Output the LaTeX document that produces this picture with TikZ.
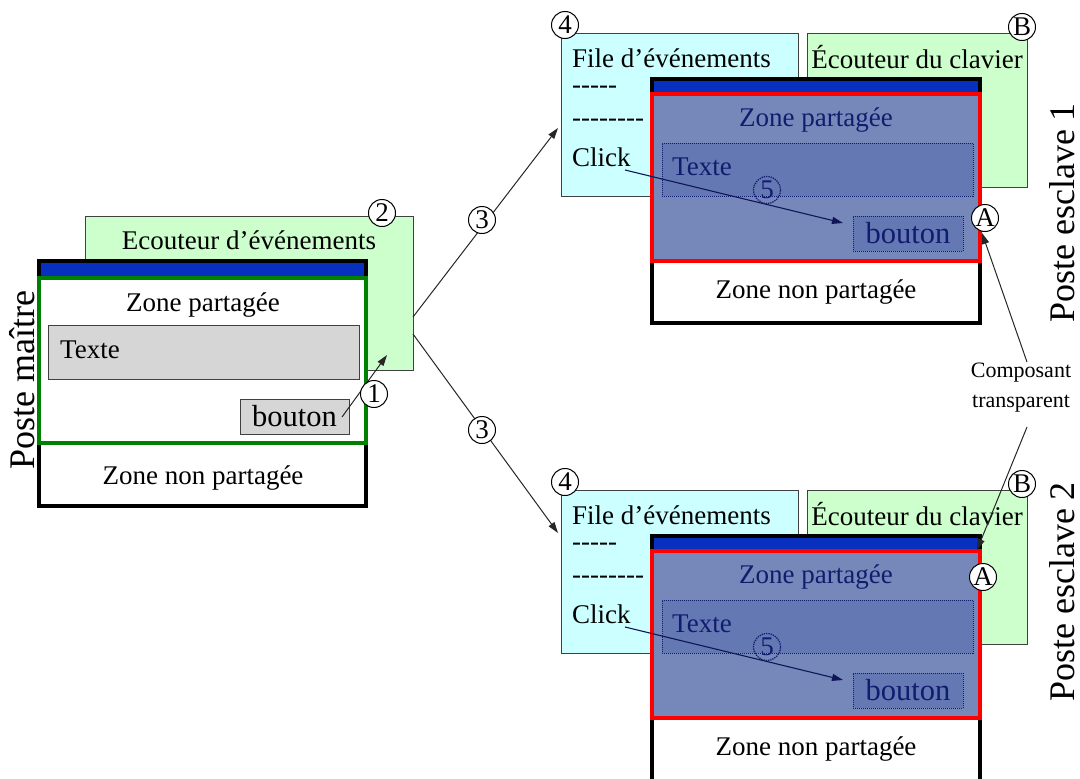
\documentclass[tikz,border=0pt]{standalone}
\usepackage{fontspec}
\setmainfont{Liberation Serif}
\usetikzlibrary{arrows.meta,fit}
\definecolor{lgreen}{RGB}{204,255,204}
\definecolor{lcyan}{RGB}{204,255,255}
\definecolor{tbar}{RGB}{8,48,190}
\definecolor{dgreen}{RGB}{0,128,0}
\definecolor{shared}{RGB}{118,136,186}
\definecolor{sharedbox}{RGB}{100,120,180}
\definecolor{navy}{RGB}{18,28,110}
\definecolor{gbox}{RGB}{214,214,214}
\newcommand\hy{\mbox{-}}
\newcommand\fs[2]{\fontsize{#1}{#2}\selectfont}
\begin{document}
\begin{tikzpicture}[x=1pt,y=-1pt,
  rbox/.style={rectangle, inner sep=0pt, outer sep=0pt},
  panel/.style={rbox, draw=black!75, line width=1pt},
  txt/.style={inner sep=0pt, font=\fs{27}{32}},
  btxt/.style={inner sep=0pt, font=\fs{30.5}{34}},
  stxt/.style={txt, text=navy},
  big/.style={inner sep=0pt, font=\fs{36}{40}, rotate=90},
  circ/.style={circle, draw=black, fill=white, line width=1pt, inner sep=0pt, minimum size=27pt, font=\fs{27}{27}},
  circd/.style={circle, draw=navy, densely dotted, line width=1.3pt, inner sep=0pt, minimum size=27pt, font=\fs{27}{27}, text=navy},
  conn/.style={draw=black!85, line width=1pt, -{Triangle[length=11pt,width=7pt]}},
  sconn/.style={draw=navy!80!black, line width=1.1pt, -{Triangle[length=11pt,width=7pt]}}]
\useasboundingbox (0,0) rectangle (1080,779);
\clip (0,0) rectangle (1080,779);

% ---------------- master ----------------
\node[panel, fill=lgreen, fit={(85,216) (413,370)}] (lis) {};
\node[txt] (mec) at (249,240) {Ecouteur d’événements};
\node[circ] (c2) at (382,213) {2};

\node[rbox, fill=white, fit={(39,261) (366,506)}] (mwin) {};
\node[rbox, fill=tbar, fit={(39,261) (366,278)}] (mbar) {};
\draw[line width=4pt] (mwin.north west) rectangle (mwin.south east);
\node[rbox, draw=dgreen, line width=4pt, fit={(39,278) (366,443)}] (mzone) {};
\node[txt] (mzp) at (203,305) {Zone partagée};
\node[panel, fill=gbox, fit={(48,325) (359,379)}] (mtbox) {};
\node[txt, anchor=west] (mtx) at (60,350) {Texte};
\node[panel, fill=gbox, fit={(240,399) (349,434)}] (mbbox) {};
\node[btxt] (mbt) at (mbbox.center) {bouton};
\node[txt] (mznp) at (203,478) {Zone non partagée};
\node[big] (pm) at (22,380) {Poste maître};

\coordinate (a1s) at (342,417);
\coordinate (a1e) at (387,355);
\draw[conn] (a1s) -- (a1e);
\node[circ] (c1) at (374,394) {1};

% ---------------- slaves ----------------
\foreach \s/\dy/\bot in {1/0/323, 2/457/340} {
\begin{scope}[yshift={-\dy pt}]
  \node[panel, fill=lcyan, fit={(561,33) (798,196)}] (file\s) {};
  \node[txt, anchor=west] (ft\s) at (572,58) {File d’événements};
  \node[txt, anchor=west] (fd\s) at (572,90) {\hy\hy\hy\hy\hy};
  \node[txt, anchor=west] (fe\s) at (572,123) {\hy\hy\hy\hy\hy\hy\hy\hy};
  \node[txt, anchor=west] (fc\s) at (572,157) {Click};
  \node[panel, fill=lgreen, fit={(807,33) (1027,187)}] (ecou\s) {};
  \node[txt] (et\s) at (917,57) {Écouteur du clavier};
  \node[circ] (c4\s) at (565,25) {4};
  \node[circ] (cB\s) at (1022,27) {B};

  \node[rbox, fill=white, fit={(652,79) (980,\bot)}] (swin\s) {};
  \node[rbox, fill=tbar, fit={(652,79) (980,94)}] (sbar\s) {};
  \draw[line width=4pt] (swin\s.north west) rectangle (swin\s.south east);
  \node[rbox, fill=shared, draw=red, line width=4pt, fit={(652,94) (980,261)}] (szone\s) {};
  \node[stxt] (szp\s) at (816,120) {Zone partagée};
  \node[rbox, fill=sharedbox, draw=navy, densely dotted, line width=1pt, fit={(662,143) (973,196)}] (stbox\s) {};
  \node[stxt, anchor=west] (stx\s) at (672,167) {Texte};
  \node[rbox, fill=sharedbox, draw=navy, densely dotted, line width=1pt, fit={(853,216) (963,251)}] (sbbox\s) {};
  \node[btxt, text=navy] (sbt\s) at (sbbox\s.center) {bouton};
  \node[txt] (sznp\s) at (816,292) {Zone non partagée};
  \coordinate (a5s\s) at (625,170);
  \coordinate (a5e\s) at (843,223);
  \draw[sconn] (a5s\s) -- (a5e\s);
  \node[circd] (c5\s) at (767,190) {5};
\end{scope}
}

\node[big] (pe1) at (1062,213) {Poste esclave 1};
\node[big] (pe2) at (1062,592) {Poste esclave 2};

% ---------------- arrows 3 ----------------
\coordinate (o3a) at (413,317);
\coordinate (t3a) at (558,128);
\coordinate (o3b) at (413,334);
\coordinate (t3b) at (558,533);
\draw[conn] (o3a) -- (t3a);
\draw[conn] (o3b) -- (t3b);
\node[circ] (c3a) at (482,220) {3};
\node[circ] (c3b) at (482,430) {3};

% ---------------- composant transparent ----------------
\node[inner sep=0pt, align=center, font=\fs{22}{30}] (comp) at (1021,388) {Composant\\transparent};
\coordinate (ca1) at (1027,362);
\coordinate (ta1) at (982,233);
\coordinate (ca2) at (1027,427);
\coordinate (ta2) at (977,550);
\draw[conn] (ca1) -- (ta1);
\draw[conn] (ca2) -- (ta2);
\node[circ] (cA1) at (985,218) {A};
\node[circ] (cA2) at (983,577) {A};
\end{tikzpicture}
\end{document}
